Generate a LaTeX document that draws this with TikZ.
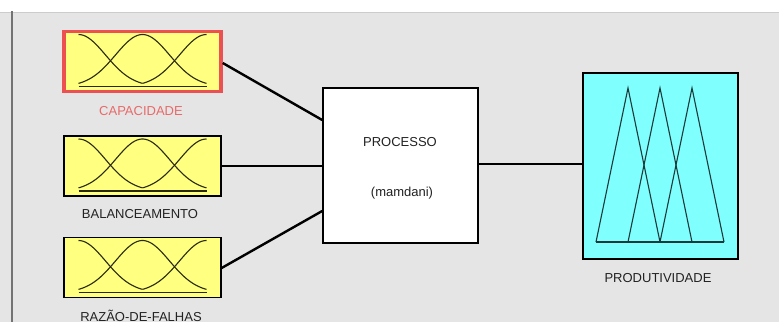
\documentclass[tikz,border=0pt]{standalone}
\usepackage{fontspec}
\setmainfont{Liberation Sans}
\begin{document}
\begin{tikzpicture}[x=1pt,y=-1pt,
  inbox/.style={draw=black, line width=1.3pt, fill=fisyellow, minimum width=157pt, minimum height=60pt, inner sep=0pt},
  outbox/.style={draw=black, line width=1.3pt, fill=fiscyan, minimum width=155pt, minimum height=186pt, inner sep=0pt},
  procbox/.style={draw=black, line width=1.6pt, fill=white, minimum width=155pt, minimum height=155pt, inner sep=0pt},
  lbl/.style={font=\fontsize{13}{15}\selectfont, text=labelgray, inner sep=0pt, anchor=base},
  conn/.style={draw=black, line width=2.4pt},
  mf/.style={draw=mfdark, line width=1.1pt},
  tri/.style={draw=tridark, line width=1.1pt}]
\definecolor{fisyellow}{HTML}{FFFF80}
\definecolor{fiscyan}{HTML}{80FFFF}
\definecolor{fisred}{HTML}{EC5050}
\definecolor{labelgray}{HTML}{222222}
\definecolor{labelred}{HTML}{E86A6A}
\definecolor{bggray}{HTML}{E5E5E5}
\definecolor{mfdark}{HTML}{2A2A10}
\definecolor{tridark}{HTML}{1A3A3A}
\useasboundingbox (0,0) rectangle (779,322);
% background
\fill[white] (0,0) rectangle (779,12);
\fill[bggray] (0,12) rectangle (779,322);
\draw[line width=1pt, black!20] (0,12) -- (779,12);
\draw[line width=2pt, black!55] (12,11) -- (12,322);
% input boxes
\node[inbox, draw=fisred, line width=3.5pt] (cap) at (142.5,61.5) {};
\node[inbox] (bal) at (142.5,166) {};
\node[inbox] (raz) at (142.5,267.5) {};
% membership functions (gaussian)
\foreach \cy in {61.5,166,267.5}{
  \pgfmathsetmacro{\bot}{\cy+25}
  \draw[mf] plot[domain=0:64, samples=40] ({78.5+\x},{\bot-52*exp(-(\x*\x)/(2*27*27))});
  \draw[mf] plot[domain=-64:64, samples=60] ({142.5+\x},{\bot-52*exp(-(\x*\x)/(2*27*27))});
  \draw[mf] plot[domain=-64:0, samples=40] ({206.5+\x},{\bot-52*exp(-(\x*\x)/(2*27*27))});
  \draw[mf] (78.5,\bot) -- (206.5,\bot);
}
% process box
\node[procbox] (proc) at (400.5,165.5) {};
% output box
\node[outbox] (prod) at (660.5,166) {};
\foreach \l in {596,628,660}{
  \draw[tri] (\l,242) -- (\l+32,88) -- (\l+64,242);
}
\draw[tri] (596,242) -- (724,242);
% connectors
\draw[conn] (cap.east |- 0,63) -- (proc.west |- 0,120);
\draw[conn] (bal.east) -- (proc.west |- bal.east);
\draw[conn] (raz.east |- 0,268) -- (proc.west |- 0,211);
\draw[conn] (proc.east |- 0,164) -- (prod.west |- 0,164);
% labels
\node[lbl, text=labelred] (capl) at (141,115) {CAPACIDADE};
\node[lbl] (ball) at (140,218) {BALANCEAMENTO};
\node[lbl] (razl) at (141,321) {RAZÃO-DE-FALHAS};
\node[lbl] (procl) at (400,146) {PROCESSO};
\node[lbl] (mamd) at (402,196) {(mamdani)};
\node[lbl] (prodl) at (658,282) {PRODUTIVIDADE};
\end{tikzpicture}
\end{document}
